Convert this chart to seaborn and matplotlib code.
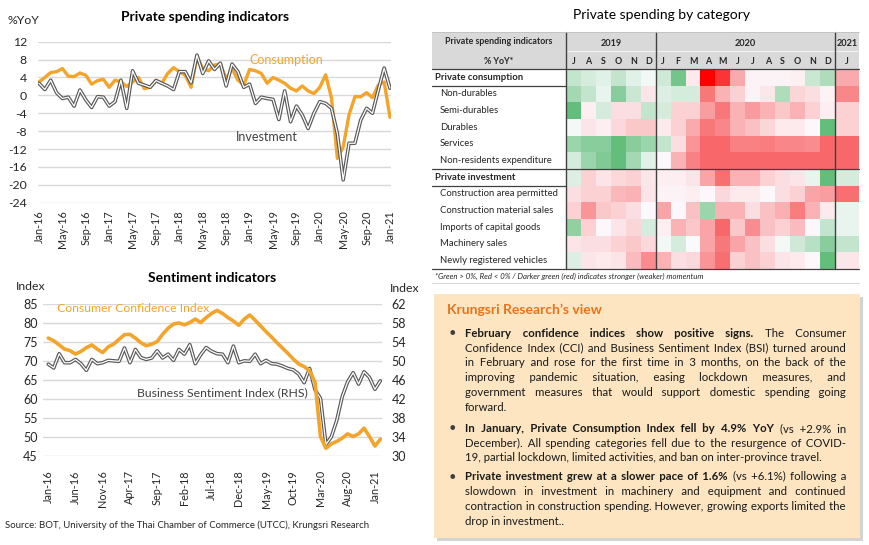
import numpy as np
import pandas as pd
import matplotlib
matplotlib.use("Agg")
import matplotlib.pyplot as plt
import seaborn as sns
from matplotlib.colors import LinearSegmentedColormap
from matplotlib.patches import Rectangle

# ---------------- data ----------------
consumption = [3.0, 4.0, 5.1, 5.3, 6.0, 4.3, 4.2, 5.0, 4.5, 2.5, 3.3, 3.6,
               1.8, 3.4, 3.0, 2.0, 3.0, 4.0, 1.5, 1.8, 3.4, 2.7, 4.9, 6.2,
               5.3, 4.5, 1.8, 8.6, 6.0, 5.5, 6.8, 7.0, 3.6, 6.0, 3.4, 2.3,
               5.8, 5.5, 4.9, 2.7, 4.0, 3.4, 2.7, 1.6, 1.0, 2.1, 1.0, 0.4,
               1.8, 4.6, -0.6, -14.1, -11.5, -4.3, -0.3, -0.3, 0.6, -0.5, 2.3, 3.0,
               -4.9]
investment = [2.7, 1.3, 3.4, 0.6, -0.7, -0.4, -2.4, 1.2, -1.0, -2.7, -0.3, -0.4,
              -2.4, -1.4, 3.4, -2.9, 5.5, 2.7, 2.3, 1.8, 3.3, 2.7, 2.1, 1.3,
              5.3, 5.3, 2.8, 9.0, 4.9, 7.7, 5.8, 7.2, 2.1, 7.0, 5.3, 1.8,
              2.5, -1.8, -0.4, -0.7, -0.9, -5.4, 1.0, -5.9, -2.4, -4.4, -7.4, -4.0,
              -1.4, -1.8, -2.9, -8.5, -18.9, -10.7, -10.7, -5.5, -2.9, -4.0, 1.2, 6.1,
              1.6]
top_tick_labels = ["Jan-16", "May-16", "Sep-16", "Jan-17", "May-17", "Sep-17",
                   "Jan-18", "May-18", "Sep-18", "Jan-19", "May-19", "Sep-19",
                   "Jan-20", "May-20", "Sep-20", "Jan-21"]

cci = [76.1, 75.4, 74.3, 73.2, 72.8, 71.9, 72.6, 73.6, 74.3, 73.2, 72.3, 73.8,
       74.5, 75.8, 77.0, 77.1, 76.1, 74.9, 74.1, 74.5, 75.2, 77.1, 78.7, 79.8,
       80.1, 79.6, 80.2, 81.1, 80.2, 81.5, 82.6, 83.4, 82.6, 81.5, 80.6, 79.5,
       81.1, 82.2, 80.8, 79.3, 77.8, 76.4, 74.9, 73.5, 72.1, 70.6, 69.3, 68.6,
       67.5, 64.5, 50.2, 47.1, 48.3, 48.9, 49.8, 50.9, 50.2, 50.9, 52.4, 50.2,
       47.7, 49.5]
bsi = [49.4, 48.6, 51.6, 49.7, 49.7, 50.4, 49.5, 48.1, 50.4, 49.5, 49.7, 50.2,
       50.1, 50.0, 52.8, 49.7, 52.5, 50.8, 50.4, 50.7, 52.2, 50.7, 51.5, 50.2,
       52.5, 51.5, 53.5, 49.5, 51.4, 52.9, 52.1, 51.6, 51.5, 49.7, 53.2, 49.7,
       50.1, 50.0, 51.5, 49.5, 50.2, 49.5, 49.4, 49.0, 48.5, 48.2, 47.3, 45.5,
       48.5, 44.0, 42.2, 32.5, 34.1, 37.6, 42.6, 45.7, 47.6, 45.2, 47.8, 46.6,
       44.1, 45.9]
bottom_tick_labels = ["Jan-16", "Jun-16", "Nov-16", "Apr-17", "Sep-17", "Feb-18",
                      "Jul-18", "Dec-18", "May-19", "Oct-19", "Mar-20", "Aug-20",
                      "Jan-21"]

heat_rows = ["Private consumption", "Non-durables", "Semi-durables", "Durables",
             "Services", "Non-residents expenditure", "Private investment",
             "Construction area permitted", "Construction material sales",
             "Imports of capital goods", "Machinery sales", "Newly registered vehicles"]
heat_months = ["J", "A", "S", "O", "N", "D",
               "J", "F", "M", "A", "M", "J", "J", "A", "S", "O", "N", "D",
               "J"]
heat_years = ["2019", "2020", "2021"]
# momentum score: >0 green, <0 red
private_consumption = [1.5, 1.0, 0.7, 1.5, 0.7, 0.3, 1.2, 3.5, -0.6, -7.0, -6.0, -2.8, -0.3, -0.3, -0.3, -0.4, 1.3, 2.0, -2.8]
non_durables = [2.3, 1.5, 0.5, 3.0, 1.3, -0.8, 0.8, 1.0, 1.0, -4.5, -2.5, -1.5, -0.3, -0.7, 2.0, -1.3, -1.0, -0.3, -4.0]
semi_durables = [4.0, -0.5, 1.0, -1.0, -1.0, 1.5, 1.0, -1.5, -1.5, -3.2, -4.5, -2.5, -3.3, -2.5, -1.8, -2.5, -1.5, -0.5, -1.5]
durables = [0.2, -0.8, -0.5, -1.2, -1.8, -1.8, -0.6, -1.5, -2.8, -4.5, -4.0, -2.5, -2.0, -1.3, -0.6, -0.6, -0.2, 4.0, -1.5]
services = [2.5, 3.0, 3.0, 4.0, 3.0, 2.5, 1.5, -1.0, -3.5, -5.0, -5.0, -4.2, -4.2, -4.3, -4.0, -4.0, -3.8, -5.0, -5.0]
non_residents = [1.0, 2.5, 3.2, 4.0, 2.3, 0.7, -0.2, -2.5, -4.2, -5.0, -5.0, -5.0, -5.0, -5.0, -5.0, -5.0, -5.0, -5.0, -5.0]
private_investment = [0.8, -1.5, -0.8, -1.2, -1.5, -0.7, -0.5, -0.5, -0.8, -3.0, -4.8, -2.5, -2.5, -1.5, -1.0, -0.8, 0.5, 4.0, 1.0]
construction_area = [-1.0, -1.5, -1.5, -2.3, -2.5, -0.8, -0.3, -0.3, -0.5, -0.2, -1.2, -0.6, -0.6, -0.2, -1.0, -1.5, -3.0, -3.2, -4.8]
construction_material = [-1.5, -3.5, -1.8, -1.5, -1.0, -0.1, -3.0, -0.2, -2.0, 2.5, -2.5, -2.5, -1.0, -2.0, -2.6, -4.3, -2.5, -0.6, 0.5]
imports_capital = [2.8, -1.5, -0.2, -0.8, -1.3, 1.0, -0.5, -2.5, -1.8, -3.0, -5.0, -1.8, -3.8, -2.0, -1.5, -2.2, -0.2, 1.5, 0.5]
machinery_sales = [-0.8, -1.0, -1.0, -1.5, -1.8, -1.2, 0.3, 1.0, 0.1, -3.0, -4.5, -3.0, -2.0, -1.0, 0.2, 1.2, 1.8, 3.0, 1.5]
new_vehicles = [0.8, -0.8, -0.6, -0.8, -2.2, -3.8, -2.5, -1.0, -1.2, -3.5, -4.8, -1.5, -2.0, -1.5, -0.8, -0.6, -0.2, 4.0, -0.7]

para_lines = [
    [("February confidence indices show positive signs.", "The Consumer"),
     ("", "Confidence Index (CCI) and Business Sentiment Index (BSI) turned around"),
     ("", "in February and rose for the first time in 3 months, on the back of the"),
     ("", "improving pandemic situation, easing lockdown measures, and"),
     ("", "government measures that would support domestic spending going"),
     ("", "forward.")],
    [("In January, Private Consumption Index fell by 4.9% YoY", "(vs +2.9% in"),
     ("", "December). All spending categories fell due to the resurgence of COVID-"),
     ("", "19, partial lockdown, limited activities, and ban on inter-province travel.")],
    [("Private investment grew at a slower pace of 1.6%", "(vs +6.1%) following a"),
     ("", "slowdown in investment in machinery and equipment and continued"),
     ("", "contraction in construction spending. However, growing exports limited the"),
     ("", "drop in investment..")],
]

# ---------------- style ----------------
sns.set_theme(style="white")
plt.rcParams["font.family"] = ["Lato", "DejaVu Sans"]
plt.rcParams["axes.unicode_minus"] = False

W, H = 870, 545
fig = plt.figure(figsize=(W / 100, H / 100), dpi=100)
fig.patch.set_facecolor("white")


def add_ax(l, t, r, b):
    return fig.add_axes([l / W, 1 - b / H, (r - l) / W, (b - t) / H])


ORANGE = "#F3A42A"
DARK = "#595959"
GRID = "#D9D9D9"
TXT = "#262626"

# ---------------- top-left chart ----------------
months_top = list(range(len(consumption)))
ax1 = add_ax(38, 41.7, 391, 202.7)
sns.lineplot(x=months_top, y=consumption, ax=ax1, color=ORANGE, linewidth=2.4)
sns.lineplot(x=months_top, y=investment, ax=ax1, color=DARK, linewidth=2.6)
sns.lineplot(x=months_top, y=investment, ax=ax1, color="white", linewidth=0.9)
ax1.set_xlim(-0.17, 60.17)
ax1.set_ylim(-24, 12)
ax1.set_yticks(range(-24, 13, 4))
ax1.yaxis.grid(True, color=GRID, lw=1.0)
ax1.xaxis.grid(False)
ax1.set_axisbelow(True)
sns.despine(ax=ax1, left=True, bottom=True)
ax1.set_xticks(range(0, 61, 4))
ax1.set_xticklabels(top_tick_labels, rotation=90, fontsize=7.8, color=TXT)
ax1.tick_params(axis="y", labelsize=8.8, colors=TXT, length=0, pad=8)
ax1.tick_params(axis="x", length=0, pad=5.5)
ax1.set_xlabel("")
ax1.set_ylabel("")
ax1.text(35.9, 7.8, "Consumption", color=ORANGE, fontsize=9, va="center")
ax1.text(33.7, -9.2, "Investment", color="#404040", fontsize=9, va="center")

# ---------------- bottom-left chart ----------------
months_bottom = list(range(len(cci)))
ax2 = add_ax(43, 304.3, 382, 456.3)
ax2r = ax2.twinx()
ax2.set_zorder(ax2r.get_zorder() + 1)
ax2.patch.set_visible(False)
sns.lineplot(x=months_bottom, y=bsi, ax=ax2r, color=DARK, linewidth=2.6)
sns.lineplot(x=months_bottom, y=bsi, ax=ax2r, color="white", linewidth=0.9)
sns.lineplot(x=months_bottom, y=cci, ax=ax2, color=ORANGE, linewidth=2.6)
ax2.set_xlim(-0.97, 61.3)
ax2.set_ylim(45, 85)
ax2.set_yticks(range(45, 86, 5))
ax2r.set_ylim(30, 62)
ax2r.set_yticks(range(30, 63, 4))
ax2.grid(False)
ax2r.xaxis.grid(False)
ax2r.yaxis.grid(True, color=GRID, lw=1.0)
ax2r.set_axisbelow(True)
for a in (ax2, ax2r):
    for s in a.spines.values():
        s.set_visible(False)
    a.set_xlabel("")
    a.set_ylabel("")
ax2.set_xticks(range(0, 61, 5))
ax2.set_xticklabels(bottom_tick_labels, rotation=90, fontsize=7.8, color=TXT)
ax2.tick_params(axis="x", length=0, pad=10)
ax2.tick_params(axis="y", labelsize=9, colors=TXT, length=0, pad=4)
ax2r.tick_params(axis="y", labelsize=9, colors=TXT, length=0, pad=7)
ax2.text(1.6, 84, "Consumer Confidence Index", color=ORANGE, fontsize=8.8, va="center")
ax2.text(16.3, 61.75, "Business Sentiment Index (RHS)", color="#404040", fontsize=8.8, va="center")

# ---------------- heatmap ----------------
heat = pd.DataFrame([private_consumption, non_durables, semi_durables, durables, services,
                     non_residents, private_investment, construction_area,
                     construction_material, imports_capital, machinery_sales, new_vehicles],
                    index=heat_rows)
vmin, vmax = -7, 4
cmap = LinearSegmentedColormap.from_list(
    "rg", [(0.0, "#FF0000"), (2 / 11, "#F8696B"), (7 / 11, "#FCFCFF"), (1.0, "#63BE7B")])

X_LAB, X_2019, X_2020, X_2021, X_END = 432, 566, 656, 835, 859
Y_TOP, Y_DATA, Y_BOT = 32, 69, 269
axh1 = add_ax(X_2019, Y_DATA, X_2021, Y_BOT)
sns.heatmap(heat.iloc[:, :18], ax=axh1, cmap=cmap, vmin=vmin, vmax=vmax, cbar=False,
            xticklabels=False, yticklabels=False)
axh2 = add_ax(X_2021, Y_DATA, X_END, Y_BOT)
sns.heatmap(heat.iloc[:, 18:], ax=axh2, cmap=cmap, vmin=vmin, vmax=vmax, cbar=False,
            xticklabels=False, yticklabels=False)
for a in (axh1, axh2):
    a.set_xlabel("")
    a.set_ylabel("")

# ---------------- overlay (pixel coordinates) ----------------
axo = fig.add_axes([0, 0, 1, 1])
axo.set_xlim(0, W)
axo.set_ylim(H, 0)
axo.axis("off")

axo.text(205, 17, "Private spending indicators", ha="center", va="center",
         fontsize=10, fontweight="bold", color="black")
axo.text(8, 20, "%YoY", ha="left", va="center", fontsize=8.8, color=TXT)
axo.text(212, 278, "Sentiment indicators", ha="center", va="center",
         fontsize=10, fontweight="bold", color="black")
axo.text(16, 286, "Index", ha="left", va="center", fontsize=8.8, color=TXT)
axo.text(390, 288, "Index", ha="left", va="center", fontsize=8.8, color=TXT)
axo.text(5, 525, "Source: BOT, University of the Thai Chamber of Commerce (UTCC), Krungsri Research",
         ha="left", va="center", fontsize=6.9, color=TXT)

# table decorations
axo.text(662, 15, "Private spending by category", ha="center", va="center",
         fontsize=10, color="black")
axo.add_patch(Rectangle((X_LAB, Y_TOP), X_END - X_LAB, Y_DATA - Y_TOP,
                        facecolor="#D9D9D9", edgecolor="none"))
axo.plot([X_2019, X_END], [50.5, 50.5], color="#F2F2F2", lw=0.8)
for xv in (X_2019, X_2020, X_2021):
    axo.plot([xv, xv], [Y_TOP, Y_BOT], color="#404040", lw=1.0)
axo.plot([X_LAB, X_END], [Y_TOP, Y_TOP], color="#BFBFBF", lw=0.6)
axo.plot([X_LAB, X_END], [Y_DATA, Y_DATA], color="#404040", lw=0.9)
row_h = (Y_BOT - Y_DATA) / len(heat_rows)
axo.plot([X_LAB, X_2019], [Y_DATA + row_h, Y_DATA + row_h], color="#404040", lw=0.9)
axo.plot([X_LAB, X_END], [Y_DATA + 6 * row_h, Y_DATA + 6 * row_h], color="#404040", lw=0.9)
axo.plot([X_LAB, X_2019], [Y_DATA + 7 * row_h, Y_DATA + 7 * row_h], color="#404040", lw=0.9)
axo.plot([X_LAB, X_END], [Y_BOT, Y_BOT], color="#404040", lw=0.9)
axo.plot([X_LAB, X_END], [283, 283], color="#D0D0D0", lw=0.6)

axo.text((X_LAB + X_2019) / 2, 42, "Private spending indicators", ha="center", va="center",
         fontsize=6.4, fontweight="bold", color=TXT)
axo.text((X_LAB + X_2019) / 2, 61.5, "% YoY*", ha="center", va="center",
         fontsize=6.4, fontweight="bold", color=TXT)
axo.text((X_2019 + X_2020) / 2, 43.5, heat_years[0], ha="center", va="center",
         fontsize=6.6, fontweight="bold", color=TXT)
axo.text((X_2020 + X_2021) / 2, 43.5, heat_years[1], ha="center", va="center",
         fontsize=6.6, fontweight="bold", color=TXT)
axo.text((X_2021 + X_END) / 2, 43.5, heat_years[2], ha="center", va="center",
         fontsize=6.6, fontweight="bold", color=TXT)
col_w = (X_2021 - X_2019) / 18
for j, m in enumerate(heat_months):
    xc = X_2019 + col_w * (j + 0.5) if j < 18 else (X_2021 + X_END) / 2
    axo.text(xc, 61.5, m, ha="center", va="center", fontsize=6.4, fontweight="bold", color=TXT)
for i, name in enumerate(heat_rows):
    yc = Y_DATA + row_h * (i + 0.5)
    bold = i in (0, 6)
    axo.text(435 if bold else 440, yc, name, ha="left", va="center", fontsize=6.8,
             fontweight="bold" if bold else "normal", color=TXT)
axo.text(435, 276, "*Green > 0%, Red < 0% / Darker green (red) indicates stronger (weaker) momentum",
         ha="left", va="center", fontsize=5.6, style="italic", color=TXT)

# text box
axo.add_patch(Rectangle((437, 297), 426, 244, facecolor="#C9C9C9", edgecolor="none", alpha=0.8))
axo.add_patch(Rectangle((434, 294), 426, 244, facecolor="#FDE5C2", edgecolor="none"))
axo.text(447, 310, "Krungsri Research\u2019s view", ha="left", va="center",
         fontsize=10, fontweight="bold", color="#E8731A")

renderer = fig.canvas.get_renderer()
HAIR = "\u200a"


def text_w(s, bold, fs):
    if not s:
        return 0.0
    t = axo.text(0, 0, s, fontsize=fs, fontweight="bold" if bold else "normal")
    w = t.get_window_extent(renderer).width
    t.remove()
    return w


def join_counts(words, counts):
    if not words:
        return ""
    out = words[0]
    for j in range(len(words) - 1):
        out += " " + HAIR * counts[j] + words[j + 1]
    return out


def spread_order(n):
    # visit gaps in a spread-out order
    order = []
    step = max(1, n // 2 + 1)
    seen = set()
    i = 0
    while len(order) < n:
        j = (i * step) % n
        while j in seen:
            j = (j + 1) % n
        seen.add(j)
        order.append(j)
        i += 1
    return order


X0, X1 = 465, 846
LINE_H = 14.8
para_y0 = [333.3, 428.3, 476.7]

FS = 9.2
while FS > 6:
    worst = 0
    for para in para_lines:
        for b, n in para:
            worst = max(worst, text_w(b, True, FS) + text_w(n, False, FS) + (4 if b and n else 0))
    if worst <= X1 - X0 - 3:
        break
    FS -= 0.1

space_w = text_w("a a", False, FS) - text_w("aa", False, FS)
hair_w = (text_w("a" + HAIR * 10 + "a", False, FS) - text_w("aa", False, FS)) / 10

for p, para in enumerate(para_lines):
    axo.text(452, para_y0[p], "\u2022", ha="center", va="center",
             fontsize=FS + 1, color="#404040")
    for k, (b, n) in enumerate(para):
        y = para_y0[p] + LINE_H * k
        last = k == len(para) - 1
        bw = b.split()
        nw = n.split()
        nb = max(len(bw) - 1, 0)
        nn = max(len(nw) - 1, 0)
        mid = 1 if (bw and nw) else 0
        ngaps = nb + nn + mid
        cb = [0] * nb
        cn = [0] * nn
        cm = [0]

        def total():
            return (text_w(join_counts(bw, cb), True, FS) +
                    text_w(join_counts(nw, cn), False, FS) +
                    (space_w + cm[0] * hair_w if mid else 0))

        if not last and ngaps > 0:
            order = spread_order(ngaps)
            done = False
            while not done:
                for g in order:
                    if g < nb:
                        cb[g] += 1
                    elif g < nb + nn:
                        cn[g - nb] += 1
                    else:
                        cm[0] += 1
                    if total() > X1 - X0:
                        if g < nb:
                            cb[g] -= 1
                        elif g < nb + nn:
                            cn[g - nb] -= 1
                        else:
                            cm[0] -= 1
                        done = True
                        break
        if bw:
            axo.text(X0, y, join_counts(bw, cb), ha="left", va="center", fontsize=FS,
                     fontweight="bold", color="#1A1A1A")
        if nw:
            if bw and not last:
                axo.text(X1, y, join_counts(nw, cn), ha="right", va="center", fontsize=FS,
                         color="#1A1A1A")
            elif bw:
                xs = X0 + text_w(join_counts(bw, cb), True, FS) + space_w
                axo.text(xs, y, join_counts(nw, cn), ha="left", va="center", fontsize=FS,
                         color="#1A1A1A")
            else:
                axo.text(X0, y, join_counts(nw, cn), ha="left", va="center", fontsize=FS,
                         color="#1A1A1A")

fig.savefig("out.png", dpi=100)
